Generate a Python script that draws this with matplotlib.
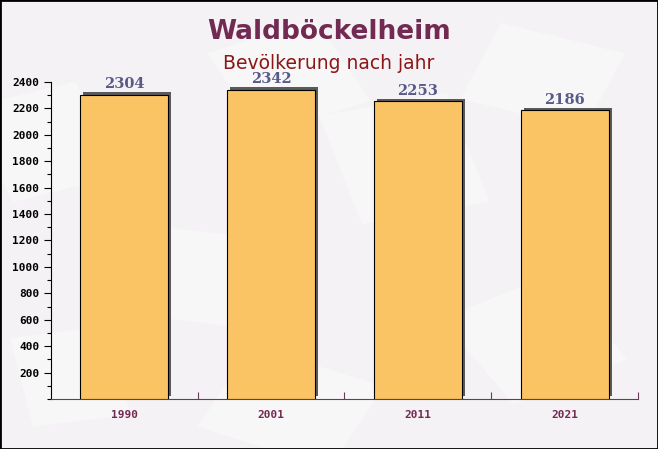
import matplotlib
matplotlib.use('Agg')
import matplotlib.pyplot as plt
import matplotlib.patheffects as pe
from matplotlib.patches import Rectangle
from matplotlib.ticker import MultipleLocator, FixedLocator, NullFormatter

# Daten
years = ['1990', '2001', '2011', '2021']
population = [2304, 2342, 2253, 2186]
title = 'Waldböckelheim'
subtitle = 'Bevölkerung nach jahr'

BG = '#f4f2f4'
BAR = '#fac364'
TITLE_C = '#722a52'
SUB_C = '#8b1616'
VAL_C = '#5a5a88'

fig = plt.figure(figsize=(6.58, 4.49), dpi=100)
fig.patch.set_facecolor(BG)

# dezente Hintergrundflächen (Briefumschläge)
for (x, y, w, h, ang) in [(0.02, 0.55, 0.18, 0.22, 20), (0.30, 0.05, 0.22, 0.2, -25),
                          (0.55, 0.50, 0.20, 0.25, 15), (0.78, 0.10, 0.2, 0.22, 30),
                          (0.20, 0.30, 0.15, 0.2, -10), (0.70, 0.78, 0.2, 0.18, -20),
                          (0.05, 0.05, 0.15, 0.2, 10), (0.40, 0.70, 0.18, 0.2, 25)]:
    fig.patches.append(Rectangle((x, y), w, h, angle=ang, transform=fig.transFigure,
                                 facecolor='white', alpha=0.4, edgecolor='none',
                                 zorder=-5))

ax = fig.add_axes([0.0775, 0.1114, 0.892, 0.706])
ax.set_facecolor('none')
ax.set_zorder(1)

xs = range(len(years))
bars = ax.bar(xs, population, width=0.6, color=BAR, edgecolor='black', linewidth=0.8,
              zorder=3)
for b in bars:
    b.set_path_effects([pe.SimplePatchShadow(offset=(2.2, 1.8), shadow_rgbFace='#5a5a5a',
                                             alpha=1.0), pe.Normal()])

for x, v in zip(xs, population):
    ax.annotate(str(v), (x, v), xytext=(0, 2.5), textcoords='offset points',
                ha='center', va='bottom', fontsize=10.5, fontweight='bold',
                family='DejaVu Serif', color=VAL_C, zorder=5)

ax.set_xlim(-0.5, len(years) - 0.5)
ax.set_ylim(0, 2400)

ax.spines['top'].set_visible(False)
ax.spines['right'].set_visible(False)
ax.spines['left'].set_color('black')
ax.spines['bottom'].set_color('#6b3a5a')

ax.yaxis.set_major_locator(FixedLocator(range(200, 2401, 200)))
ax.yaxis.set_minor_locator(MultipleLocator(100))
ax.tick_params(axis='y', which='major', length=5, width=0.8, labelsize=8,
               direction='out', colors='black')
ax.tick_params(axis='y', which='minor', length=3, width=0.8, direction='out')
for lab in ax.get_yticklabels():
    lab.set_family('DejaVu Sans Mono')
    lab.set_fontweight('bold')

ax.set_xticks(list(xs))
ax.set_xticklabels(years, family='DejaVu Sans Mono', fontweight='bold', fontsize=8,
                   color=TITLE_C)
ax.tick_params(axis='x', which='major', length=0, pad=8)
ax.xaxis.set_minor_locator(FixedLocator([0.5, 1.5, 2.5, 3.5]))
ax.xaxis.set_minor_formatter(NullFormatter())
ax.tick_params(axis='x', which='minor', length=5, width=0.8, direction='in',
               color='#6b3a5a')

fig.text(0.5, 0.913, title, ha='center', va='baseline', fontsize=19,
         fontweight='bold', color=TITLE_C)
fig.text(0.5, 0.847, subtitle, ha='center', va='baseline', fontsize=13.5, color=SUB_C)

fig.patches.append(Rectangle((0, 0), 1, 1, transform=fig.transFigure, fill=False,
                             edgecolor='black', linewidth=2, zorder=10))

fig.savefig('out.png', dpi=100, facecolor=BG)
